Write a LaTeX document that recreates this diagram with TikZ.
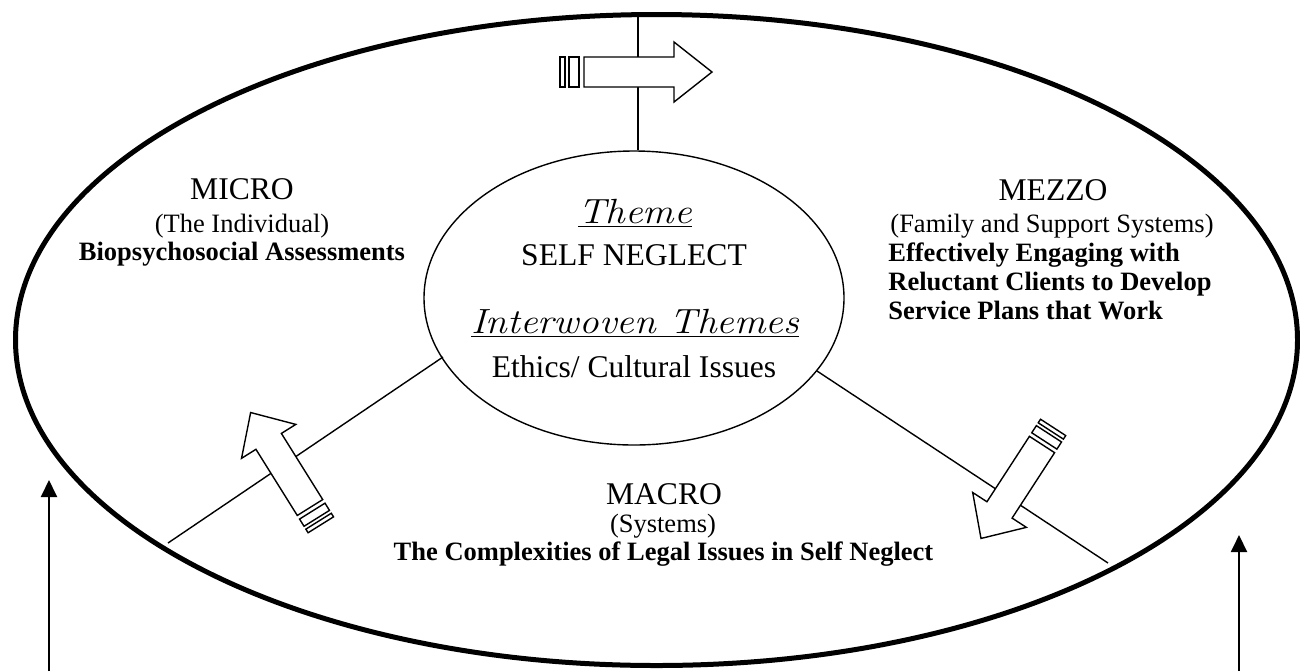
\documentclass[tikz,border=0pt]{standalone}
\usepackage{graphicx}
\usepackage{fontspec}
\setmainfont{Liberation Serif}
\newfontfamily\lmfont{Latin Modern Roman}
\usetikzlibrary{shapes.geometric,arrows.meta}

\tikzset{
  bigtxt/.style={inner sep=0pt, font=\fontsize{15.8}{18}\selectfont},
  smtxt/.style={inner sep=0pt, font=\fontsize{13.25}{15}\selectfont},
  smbold/.style={inner sep=0pt, font=\fontsize{13.25}{15}\selectfont\bfseries},
  scrtxt/.style={inner sep=0pt, font=\fontsize{17.5}{20}\selectfont\lmfont\itshape},
  blockline/.style={draw=black, fill=white, line width=0.7pt, line join=miter},
  thinline/.style={draw=black, line width=0.7pt},
  uparrow/.style={draw=black, line width=1pt, -{Triangle[width=8pt,length=8.5pt]}},
  outerell/.style={ellipse, draw=black, line width=2.5pt, inner sep=0pt,
     minimum width=641pt, minimum height=325.5pt},
  coreell/.style={ellipse, draw=black, line width=0.7pt, inner sep=0pt,
     minimum width=210pt, minimum height=147pt}
}

% #1 base centre, #2 angle, #3 body length, #4 head length, #5 head half width, #6 stripe scale
\newcommand{\BlockArr}[6]{%
  \begin{scope}[shift={#1}, rotate=#2]
    \path[blockline] (0,-15) -- (#3,-15) -- (#3,-#5) -- (#3+#4,0) -- (#3,#5) -- (#3,15) -- (0,15) -- cycle;
    \path[blockline] (-5*#6,-15) rectangle (-15*#6,15);
    \path[blockline] (-19*#6,-15) rectangle (-24*#6,15);
  \end{scope}}

\begin{document}
\begin{tikzpicture}[x=0.5pt,y=-0.5pt]
\useasboundingbox (0,0) rectangle (1300,671);

% ellipses
\node[outerell] (outer) at (656.5,340) {};
\node[coreell] (core) at (634,298) {};

% connectors
\coordinate (ttop) at (638,14);
\draw[thinline] (ttop) -- (ttop |- core.north);
\coordinate (l0) at (168,543);
\coordinate (l1) at (443,357);
\draw[thinline] (l0) -- (l1);
\coordinate (r0) at (817,371);
\coordinate (r1) at (1108,563);
\draw[thinline] (r0) -- (r1);

% block arrows
\BlockArr{(584,72)}{0}{90}{38}{30}{1}
\BlockArr{(310,507.5)}{122}{78}{34}{32}{0.85}
\BlockArr{(1042,444.5)}{237}{78}{34}{32}{0.85}

% bottom arrows
\coordinate (la0) at (49,671);
\coordinate (la1) at (49,480);
\draw[uparrow] (la0) -- (la1);
\coordinate (ra0) at (1239,671);
\coordinate (ra1) at (1239,535);
\draw[uparrow] (ra0) -- (ra1);

% MICRO
\node[bigtxt, anchor=base] (micro) at (242,199) {MICRO};
\node[smtxt, anchor=base] (microsub) at (242,232) {(The Individual)};
\node[smbold, anchor=base] (microbody) at (242,260) {Biopsychosocial Assessments};

% MEZZO
\node[bigtxt, anchor=base] (mezzo) at (1053,200) {MEZZO};
\node[smtxt, anchor=base] (mezzosub) at (1052,232) {(Family and Support Systems)};
\node[smbold, anchor=base west] (mz1) at (888,261) {Effectively Engaging with};
\node[smbold, anchor=base west] (mz2) at (888,290) {Reluctant Clients to Develop};
\node[smbold, anchor=base west] (mz3) at (888,319) {Service Plans that Work};

% MACRO
\node[bigtxt, anchor=base] (macro) at (664,504) {MACRO};
\node[smtxt, anchor=base] (macrosub) at (663,532) {(Systems)};
\node[smbold, anchor=base] (macrobody) at (663.5,560) {The Complexities of Legal Issues in Self Neglect};

% centre
\node[scrtxt, anchor=base] (theme) at (635,223) {\scalebox{1.12}[1]{\underline{Theme}}};
\node[bigtxt, anchor=base] (selfneg) at (634,265) {SELF NEGLECT};
\node[scrtxt, anchor=base] (interw) at (635,333) {\scalebox{1.12}[1]{\underline{Interwoven Themes}}};
\node[bigtxt, anchor=base] (ethics) at (634,377) {Ethics/ Cultural Issues};
\end{tikzpicture}
\end{document}
